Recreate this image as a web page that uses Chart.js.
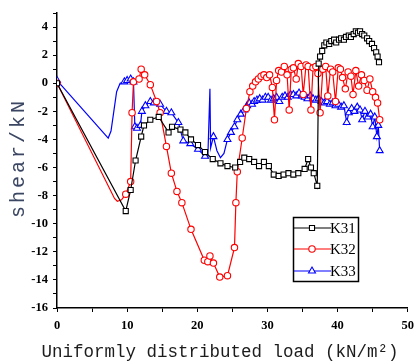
<!DOCTYPE html>
<html>
<head>
<meta charset="utf-8">
<script src="https://cdn.jsdelivr.net/npm/chart.js@4.4.1/dist/chart.umd.min.js"></script>
<style>
  html, body { margin: 0; padding: 0; background: #fff; }
</style>
</head>
<body>
<canvas id="chart" width="420" height="362"></canvas>
<script>
// shear vs. uniformly distributed load, three gauges
const seriesNames = ["K31", "K32", "K33"];

const k31X = [0, 9.8, 10.5, 11.2, 12.0, 12.4, 13.3, 14.5, 15.9, 16.4, 17.6, 18.3, 19.1, 20.1, 21.1, 22.2, 23.3, 24.3, 25.4, 26.1, 26.7, 27.4, 28.1, 28.8, 29.5, 30.2, 30.9, 31.6, 32.3, 33.0, 33.7, 34.4, 35.3, 35.8, 36.2, 36.6, 37.1,
  37.3, 37.5, 37.8, 38.1, 38.4, 38.8, 39.1, 39.5, 39.8, 40.2, 40.5, 40.9, 41.2, 41.6, 41.9, 42.3, 42.6, 42.9, 43.2, 43.5, 43.8, 44.2, 44.5, 44.9, 45.2, 45.5, 45.7, 45.9];
const k31Y = [0, -9.1, -7.6, -5.5, -3.8, -3.0, -2.6, -2.4, -3.5, -3.1, -3.3, -3.5, -4.0, -4.4, -4.9, -5.4, -5.7, -5.9, -6.0, -5.6, -5.3, -5.4, -5.6, -5.9, -5.6, -5.9, -6.5, -6.6, -6.5, -6.4, -6.5, -6.4, -6.1, -5.4, -6.0, -6.4, -7.3,
  1.4, 1.9, 2.3, 2.7, 2.9, 2.8, 3.0, 3.1, 2.9, 3.1, 3.2, 3.1, 3.3, 3.4, 3.3, 3.5, 3.7, 3.6, 3.7, 3.5, 3.4, 3.2, 3.0, 2.8, 2.5, 2.2, 1.9, 1.5];

const k32X = [0, 8.2, 8.6, 9.2, 9.8, 10.5, 10.7, 10.9, 11.7, 12.0, 12.5, 13.3, 14.2, 14.7, 15.6, 16.3, 17.1, 17.8, 19.1, 21.0, 21.5, 21.8, 22.3, 23.2, 24.3, 25.3, 25.5, 25.7,
  26.4, 27.0, 27.5, 27.9, 28.3, 28.7, 29.1, 29.5, 29.9, 30.3, 30.7, 31.0, 31.3, 31.6, 32.0, 32.4, 32.8, 33.1, 33.4, 33.7, 34.1, 34.4, 34.8, 35.1, 35.5, 35.8, 36.2, 36.5, 36.9, 37.2,
  37.5, 37.9, 38.3, 38.6, 39.0, 39.3, 39.7, 40.1, 40.4, 40.7, 41.1, 41.5, 41.9, 42.2, 42.6, 43.0, 43.4, 43.8, 44.2, 44.6, 45.0, 45.4, 45.7, 46.0];
const k32Y = [0, -8.2, -8.4, -8.3, -7.9, -7.0, -2.1, 0.1, 0.3, 1.0, 0.6, -0.1, -1.3, -2.1, -4.5, -6.4, -7.7, -8.5, -10.4, -12.6, -12.7, -12.3, -12.8, -13.8, -13.7, -11.7, -8.5, -6.3,
  -3.9, -1.8, -0.6, -0.2, 0.1, 0.3, 0.5, 0.6, 0.4, 0.6, -0.3, -2.6, 0.2, 0.9, 0.8, 1.2, 0.6, -1.9, 1.0, 1.1, 0.3, 1.4, 1.2, -0.8, 1.3, 1.2, -1.9, 1.1, 1.2, 0.7,
  -2.1, 1.0, 1.2, -0.9, 1.0, 0.8, -1.3, 1.1, 1.0, 0.4, -0.4, 0.8, 0.5, -0.8, 0.9, -0.2, 0.6, 0.2, -0.5, 0.3, -0.6, -1.0, -1.4, -2.6];

const k33X = [0, 7.3, 7.7, 8.1, 8.5, 9.0, 9.6, 10.0, 10.5, 10.9, 11.1, 11.4, 11.9, 12.1, 12.6, 13.3, 13.8, 14.7, 15.6, 16.3, 17.3, 18.0, 19.0, 20.1, 21.1, 21.5, 21.8, 21.9, 22.3, 22.8, 23.3, 23.8,
  24.3, 24.8, 25.3, 25.7, 26.2, 26.7, 27.1, 27.4, 27.8, 28.1, 28.5, 28.9, 29.3, 29.7, 30.1, 30.5, 30.9, 31.3, 31.7, 32.1, 32.5, 32.9, 33.3, 33.7, 34.1, 34.5, 34.9, 35.3, 35.7, 36.1,
  36.5, 36.9, 37.3, 37.7, 38.1, 38.5, 38.9, 39.3, 39.7, 40.1, 40.5, 40.9, 41.3, 41.6, 42.0, 42.4, 42.8, 43.2, 43.5, 43.9, 44.3, 44.7, 45.0, 45.3, 45.6, 45.8, 46.0];
const k33Y = [0.2, -3.9, -3.4, -2.0, -0.6, 0.0, 0.1, 0.2, 0.3, 0.1, -3.1, -3.2, -3.0, -2.0, -1.6, -1.3, -1.4, -1.5, -2.0, -2.1, -2.8, -4.1, -4.3, -4.7, -5.2, -5.3, -0.4, -4.6, -3.8, -4.8, -5.3, -5.0,
  -4.0, -3.5, -3.1, -2.6, -2.2, -1.9, -1.6, -1.4, -1.5, -1.3, -1.2, -1.1, -1.2, -1.0, -1.0, -1.2, -1.1, -1.0, -1.3, -1.0, -0.9, -1.0, -0.8, -0.8, -0.9, -0.7, -0.9, -1.0, -1.1, -0.9,
  -1.1, -1.2, -1.1, -1.3, -1.4, -1.3, -1.5, -1.4, -1.6, -1.5, -1.7, -1.6, -2.8, -2.1, -1.8, -2.0, -1.7, -1.9, -2.6, -2.0, -2.4, -2.2, -3.1, -2.4, -3.8, -3.0, -4.8];

const xTicks = [0, 10, 20, 30, 40, 50];
const yTicks = [-16, -14, -12, -10, -8, -6, -4, -2, 0, 2, 4];

const xTitle = "Uniformly distributed load (kN/m\u00b2)";
const yTitle = "shear/kN";

const zip = (xs, ys) => xs.map((x, i) => ({ x, y: ys[i] }));

// stretches of curve drawn without markers
const bareRuns = {
  K31: [],
  K32: [[0.01, 9.5]],
  K33: [[0.01, 9.5], [21.4, 22.0], [22.5, 24.0]],
};

const styles = {
  K31: { color: "#000000", pointStyle: "rect", radius: 3.6 },
  K32: { color: "#ff0000", pointStyle: "circle", radius: 3.2 },
  K33: { color: "#0000ff", pointStyle: "triangle", radius: 4 },
};

function makeSet(name, xs, ys) {
  const st = styles[name];
  return {
    label: name,
    data: zip(xs, ys),
    borderColor: st.color,
    backgroundColor: "#ffffff",
    borderWidth: 1.2,
    pointStyle: st.pointStyle,
    pointBorderColor: st.color,
    pointBackgroundColor: "#ffffff",
    pointBorderWidth: 1.1,
    pointRadius: (c) => {
      const x = c.raw ? c.raw.x : 0;
      return bareRuns[name].some(([a, b]) => x > a && x < b) ? 0 : st.radius;
    },
    tension: 0,
    fill: false,
  };
}

const tickFont = { family: '"Liberation Serif", serif', size: 12.5, weight: "bold" };

// axis titles and the boxed legend
const decorPlugin = {
  id: "decor",
  afterDraw(chart) {
    const { ctx } = chart;
    ctx.save();
    ctx.fillStyle = "#1c1c1c";
    ctx.font = '17.5px "Liberation Mono", monospace';
    ctx.textAlign = "center";
    ctx.textBaseline = "middle";
    ctx.fillText(xTitle, 220, 352);

    ctx.save();
    ctx.translate(19, 158);
    ctx.rotate(-Math.PI / 2);
    ctx.fillStyle = "#3a4662";
    ctx.font = '20px "Liberation Mono", monospace';
    ctx.letterSpacing = "3px";
    ctx.fillText(yTitle, 0, 0);
    ctx.restore();

    // legend box
    ctx.strokeStyle = "#000";
    ctx.lineWidth = 1.5;
    ctx.strokeRect(293.5, 217.5, 65, 64);
    const rows = [228, 249, 271];
    seriesNames.forEach((name, i) => {
      const st = styles[name];
      const y = rows[i];
      ctx.strokeStyle = st.color;
      ctx.lineWidth = 1.2;
      ctx.beginPath();
      ctx.moveTo(294, y);
      ctx.lineTo(331, y);
      ctx.stroke();
      ctx.fillStyle = "#fff";
      ctx.lineWidth = 1.1;
      Chart.helpers.drawPoint(ctx, { pointStyle: st.pointStyle, radius: st.radius, rotation: 0, borderWidth: 1.1 }, 312, y);
      ctx.fillStyle = "#000";
      ctx.font = '15px "Liberation Serif", serif';
      ctx.textAlign = "left";
      ctx.fillText(name, 330, y + 1);
    });
    ctx.restore();
  },
};

new Chart(document.getElementById("chart"), {
  type: "line",
  data: {
    datasets: [
      makeSet("K31", k31X, k31Y),
      makeSet("K32", k32X, k32Y),
      makeSet("K33", k33X, k33Y),
    ],
  },
  options: {
    responsive: false,
    animation: false,
    devicePixelRatio: 1,
    layout: { padding: { top: 13, right: 7, left: 0, bottom: 0 } },
    plugins: { legend: { display: false }, tooltip: { enabled: false } },
    scales: {
      x: {
        type: "linear",
        min: 0,
        max: 50,
        afterBuildTicks: (s) => { s.ticks = Array.from({ length: 11 }, (_, i) => ({ value: i * 5 })); },
        afterFit: (s) => { s.height = 54; },
        ticks: {
          autoSkip: false,
          maxRotation: 0,
          color: "#000",
          font: tickFont,
          padding: 6,
          callback: (v) => (xTicks.includes(v) ? String(v) : ""),
        },
        grid: { drawOnChartArea: false, color: "#000", tickLength: 4, tickWidth: 1 },
        border: { color: "#000", width: 1.5 },
      },
      y: {
        min: -16,
        max: 5,
        afterBuildTicks: (s) => { s.ticks = Array.from({ length: 22 }, (_, i) => ({ value: i - 16 })); },
        afterFit: (s) => { s.width = 57; },
        ticks: {
          autoSkip: false,
          color: "#000",
          font: tickFont,
          padding: 5,
          callback: (v) => (yTicks.includes(v) ? String(v) : ""),
        },
        grid: { drawOnChartArea: false, color: "#000", tickLength: 4, tickWidth: 1 },
        border: { color: "#000", width: 1.5 },
      },
    },
  },
  plugins: [decorPlugin],
});
</script>
</body>
</html>
